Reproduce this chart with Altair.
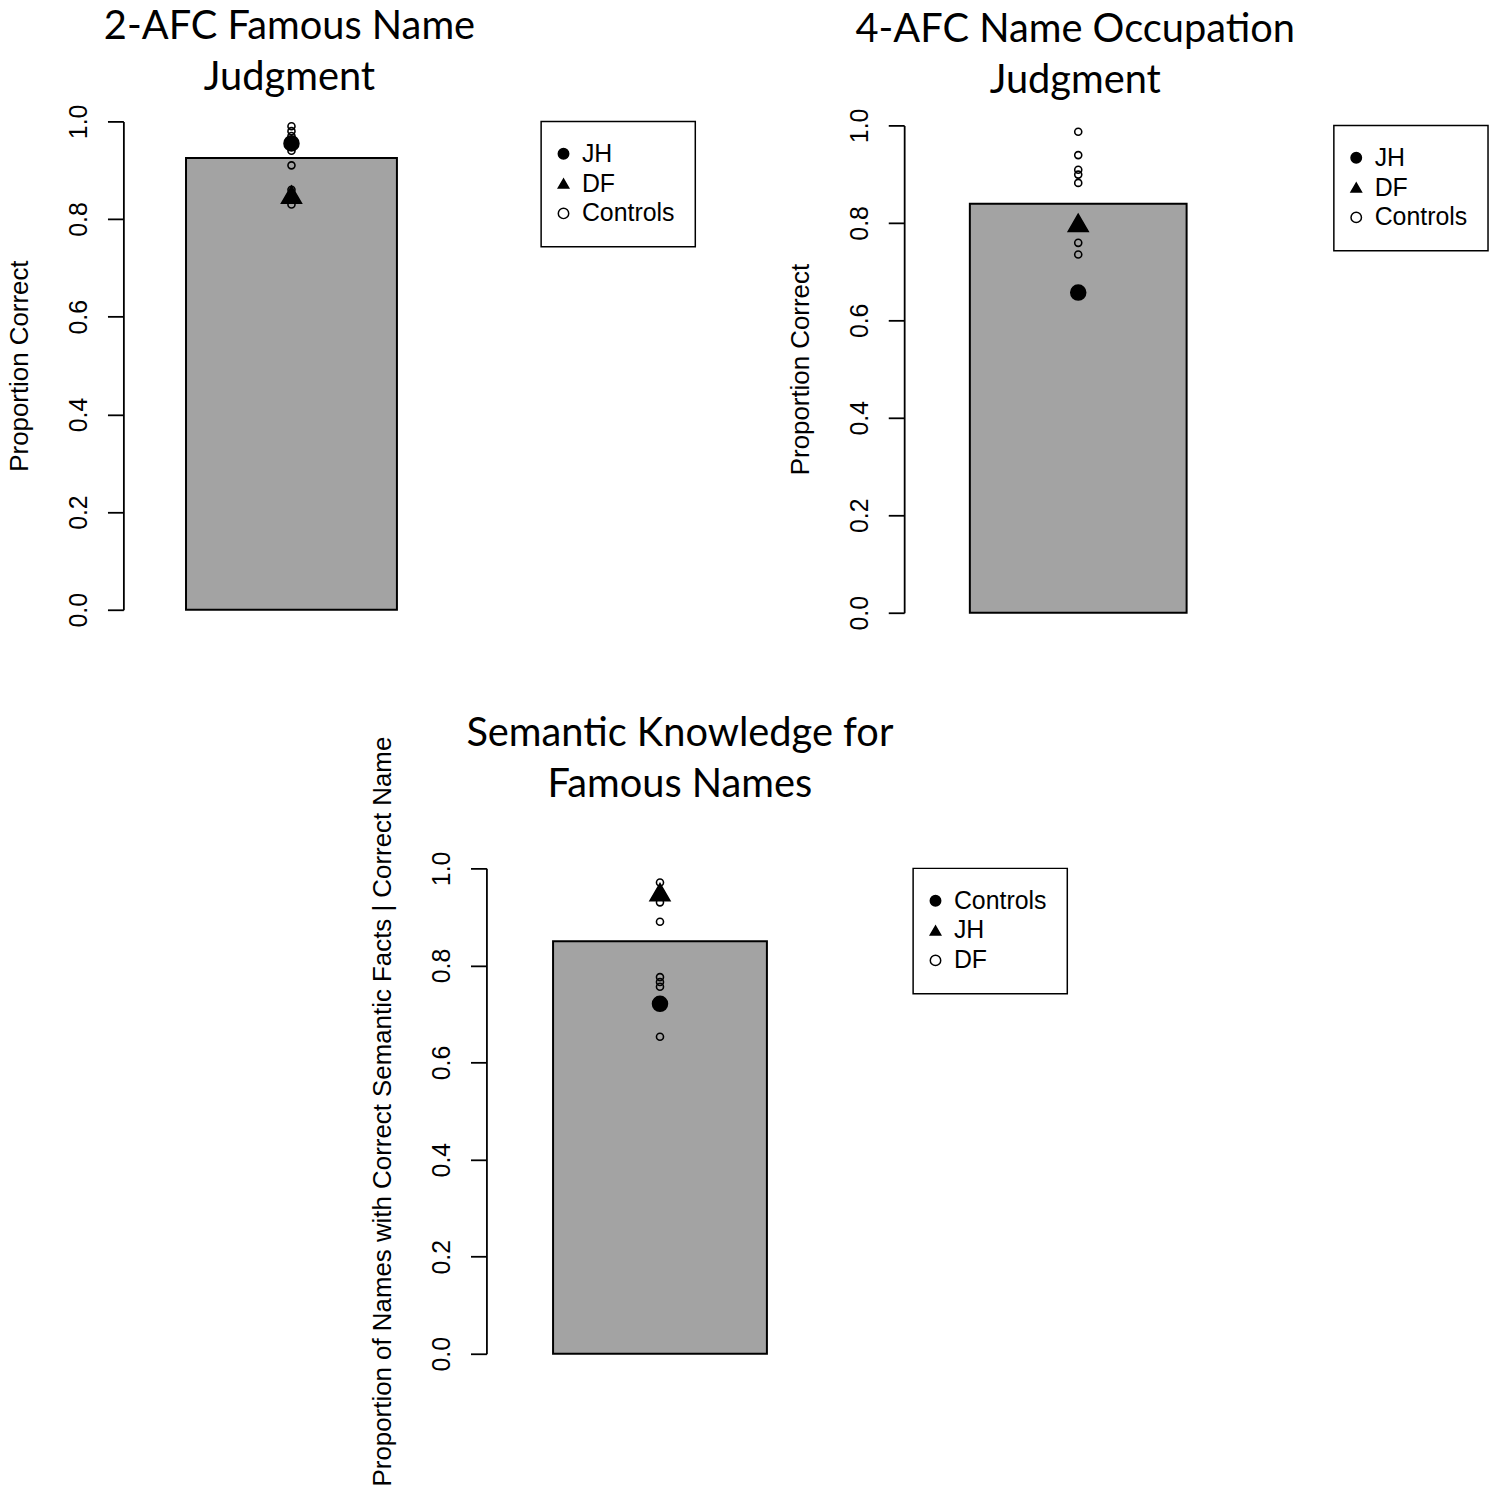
import altair as alt
import pandas as pd

# ---------------- data ----------------
P1_TITLE = ["2-AFC Famous Name", "Judgment"]
P1_YTITLE = "Proportion Correct"
P1_BAR = 0.925
P1_GROUPS = ["JH", "DF", "Controls"]
P1_CONTROLS = [0.99, 0.98, 0.97, 0.94, 0.91, 0.86, 0.83]
P1_JH = [0.955]
P1_DF = [0.85]

P2_TITLE = ["4-AFC Name Occupation", "Judgment"]
P2_YTITLE = "Proportion Correct"
P2_BAR = 0.839
P2_GROUPS = ["JH", "DF", "Controls"]
P2_CONTROLS = [0.987, 0.939, 0.909, 0.899, 0.882, 0.759, 0.735]
P2_JH = [0.657]
P2_DF = [0.80]

P3_TITLE = ["Semantic Knowledge for", "Famous Names"]
P3_YTITLE = "Proportion of Names with Correct Semantic Facts | Correct Name"
P3_BAR = 0.850
P3_GROUPS = ["Controls", "JH", "DF"]       # legend order as printed
P3_FILLED = [0.721]                         # filled circle  -> "Controls"
P3_TRIANGLE = [0.951]                       # triangle       -> "JH"
P3_OPEN = [0.971, 0.930, 0.890, 0.776, 0.766, 0.756, 0.653]  # open -> "DF"

TICKS = [0.0, 0.2, 0.4, 0.6, 0.8, 1.0]

BAR_FILL = "#a3a3a3"
LABEL_FONT = "Liberation Sans"
TITLE_FONT = "Lato"

STYLE = {
    "filled": dict(shape="circle", fill="black", size=225),
    "tri": dict(shape="triangle-up", fill="black", size=400),
    "open": dict(shape="circle", fill="transparent", size=50),
}


def panel(title, ytitle, bar_value, groups, kinds, series, width, height, pad_outer,
          legend_offset, title_offset, title_dx):
    df_bar = pd.DataFrame({"cond": ["c"], "value": [bar_value]})

    x = alt.X("cond:N", scale=alt.Scale(paddingInner=0, paddingOuter=pad_outer), axis=None)
    y = alt.Y(
        "value:Q",
        scale=alt.Scale(domain=[0, 1], nice=False, zero=True),
        title=ytitle,
        axis=alt.Axis(
            values=TICKS, format=".1f", grid=False,
            domainColor="black", domainWidth=1.8,
            tickColor="black", tickWidth=1.8, tickSize=16,
            labelFont=LABEL_FONT, labelFontSize=25, labelColor="black",
            labelAngle=270, labelAlign="center", labelBaseline="alphabetic",
            labelPadding=21, labelFlush=False, labelOverlap=False,
            titleFont=LABEL_FONT, titleFontSize=26, titleFontWeight="normal",
            titleColor="black", titleAngle=270, titleAlign="center",
            titleBaseline="alphabetic", titleX=-96, titleY=height / 2,
        ),
    )
    leg = alt.Legend(
        orient="right", offset=legend_offset, title=None,
        strokeColor="black", padding=20, fillColor="white",
        labelFont=LABEL_FONT, labelFontSize=25, labelColor="black",
        labelOffset=6, symbolOffset=-10, rowPadding=4, symbolSize=110,
        symbolStrokeColor="black", symbolStrokeWidth=1.5, symbolOpacity=1,
    )
    shape_scale = alt.Scale(domain=groups, range=[STYLE[kinds[g]]["shape"] for g in groups])
    fill_scale = alt.Scale(domain=groups, range=[STYLE[kinds[g]]["fill"] for g in groups])
    stroke_scale = alt.Scale(domain=groups, range=["black"] * len(groups))

    layers = [alt.Chart(df_bar).mark_bar(fill=BAR_FILL, stroke="black", strokeWidth=2).encode(x=x, y=y)]
    for g, vals in series:
        df = pd.DataFrame({"cond": ["c"] * len(vals), "value": vals, "group": [g] * len(vals)})
        layers.append(
            alt.Chart(df).mark_point(
                filled=True, strokeWidth=1.6, opacity=1,
                size=STYLE[kinds[g]]["size"],
            ).encode(
                x=x, y=y,
                shape=alt.Shape("group:N", scale=shape_scale, legend=leg),
                fill=alt.Fill("group:N", scale=fill_scale, legend=leg),
                stroke=alt.Stroke("group:N", scale=stroke_scale, legend=leg),
            )
        )
    return alt.layer(*layers).properties(
        width=width, height=height,
        title=alt.TitleParams(
            text=title, font=TITLE_FONT, fontSize=40, fontWeight="normal",
            color="black", anchor="middle", frame="group",
            baseline="alphabetic", lineHeight=51, offset=title_offset, dx=title_dx,
        ),
    )


K12 = {"JH": "filled", "DF": "tri", "Controls": "open"}
K3 = {"Controls": "filled", "JH": "tri", "DF": "open"}

p1 = panel(P1_TITLE, P1_YTITLE, P1_BAR, P1_GROUPS, K12,
           [("Controls", P1_CONTROLS), ("JH", P1_JH), ("DF", P1_DF)],
           338, 491, 0.297, 82, -26, -2)
p2 = panel(P2_TITLE, P2_YTITLE, P2_BAR, P2_GROUPS, K12,
           [("Controls", P2_CONTROLS), ("JH", P2_JH), ("DF", P2_DF)],
           350, 490, 0.303, 82, -25, -3)
p3 = panel(P3_TITLE, P3_YTITLE, P3_BAR, P3_GROUPS, K3,
           [("DF", P3_OPEN), ("Controls", P3_FILLED), ("JH", P3_TRIANGLE)],
           349, 488, 0.3116, 80, -101, 20)


def spacer(w, h):
    return alt.Chart(pd.DataFrame({"v": [0]})).mark_point(opacity=0).encode(
        x=alt.X("v:Q", axis=None), y=alt.Y("v:Q", axis=None)
    ).properties(width=w, height=h)


res = dict(x="independent", y="independent", shape="independent", fill="independent", stroke="independent")
leg_res = dict(shape="independent", fill="independent", stroke="independent")

col2 = alt.vconcat(spacer(10, 4), p2, spacing=0, bounds="flush").resolve_scale(**res).resolve_legend(**leg_res)
row1 = alt.hconcat(p1, col2, spacing=447, bounds="flush").resolve_scale(**res).resolve_legend(**leg_res)
row2 = alt.hconcat(spacer(100, 10), p3, spacing=265, bounds="flush").resolve_scale(**res).resolve_legend(**leg_res)

chart = alt.vconcat(row1, row2, spacing=751, bounds="flush").resolve_scale(**res).resolve_legend(**leg_res)
chart = chart.properties(
    autosize=alt.AutoSizeParams(type="none"),
    padding={"left": 116, "top": 110, "right": 1376, "bottom": 1379},
    background="white",
).configure_view(stroke=None).configure_legend(strokeWidth=1.5)

chart.save("out.html", embed_options={"renderer": "svg", "actions": False})
